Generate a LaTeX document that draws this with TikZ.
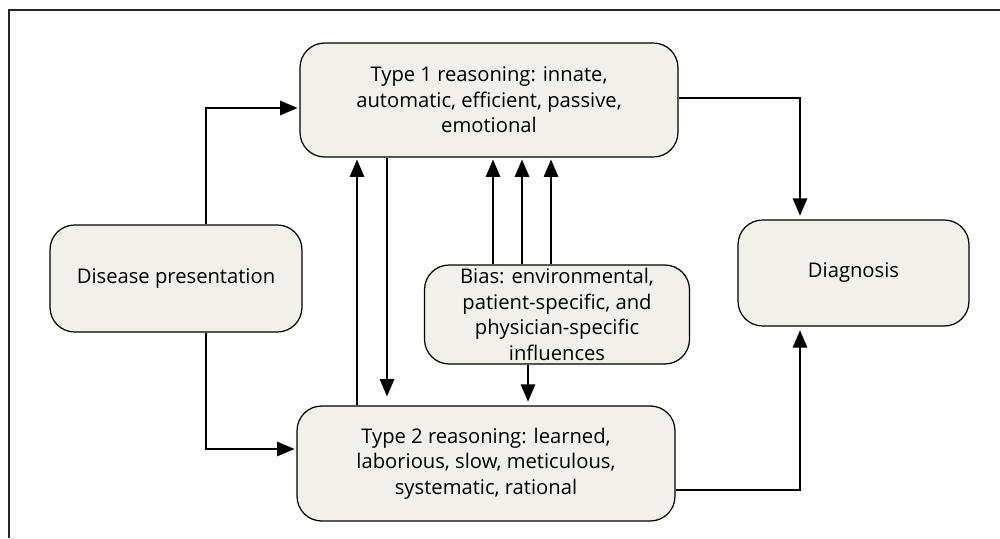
\documentclass[tikz,border=0pt]{standalone}
\usepackage{fontspec}
\setmainfont{Open Sans}
\usetikzlibrary{arrows.meta,calc}
\definecolor{boxfill}{RGB}{241,240,233}
\tikzset{
  box/.style={draw=black, line width=0.7pt, fill=boxfill, rounded corners=14pt,
    align=center, font=\fontsize{11.5}{14.6}\selectfont, inner sep=0pt},
  arr/.style={line width=1.6pt, -{Triangle[length=10pt,width=8pt]}},
  frame/.style={line width=0.8pt, draw=black!85}
}
\begin{document}
\begin{tikzpicture}[x=0.02cm,y=-0.02cm]
\useasboundingbox (0,0) rectangle (1000,538);
\draw[frame] (9,538) -- (9,10) -- (1000,10);

\node[box, minimum width=7.56cm, minimum height=2.28cm] (t1) at (489,100)
  {Type 1 reasoning: innate,\\automatic, efficient, passive,\\emotional};
\node[box, minimum width=7.56cm, minimum height=2.3cm] (t2) at (486,463.5)
  {Type 2 reasoning: learned,\\laborious, slow, meticulous,\\systematic, rational};
\node[box, minimum width=5.04cm, minimum height=2.14cm] (dp) at (176,278.5)
  {Disease presentation};
\node[box, minimum width=4.62cm, minimum height=2.12cm] (dg) at (853.5,273)
  {Diagnosis};
\node[box, minimum width=5.3cm, minimum height=1.98cm] (bias) at (557,314.5)
  {Bias: environmental,\\patient-specific, and\\physician-specific\\influences};

\coordinate (c1) at (206,108);
\coordinate (c2) at (206,449);
\coordinate (c3) at (800,98);
\coordinate (c4) at (800,490);
\coordinate (d1) at (387,0);
\coordinate (u1) at (357,0);
\coordinate (b1) at (493,0);
\coordinate (b2) at (522,0);
\coordinate (b3) at (551,0);
\coordinate (b4) at (528,0);

\draw[arr] (dp.north -| c1) |- ([xshift=-1pt]t1.west |- c1);
\draw[arr] (dp.south -| c2) |- ([xshift=-1pt]t2.west |- c2);
\draw[arr] (t1.east |- c3) -| ([yshift=2pt]dg.north -| c3);
\draw[arr] (t2.east |- c4) -| ([yshift=-2pt]dg.south -| c4);
\draw[arr] (t1.south -| d1) -- ([yshift=5pt]t2.north -| d1);
\draw[arr] (t2.north -| u1) -- ([yshift=-1pt]t1.south -| u1);
\draw[arr] (bias.north -| b1) -- ([yshift=-1pt]t1.south -| b1);
\draw[arr] (bias.north -| b2) -- ([yshift=-1pt]t1.south -| b2);
\draw[arr] (bias.north -| b3) -- ([yshift=-1pt]t1.south -| b3);
\draw[arr] (bias.south -| b4) -- ([yshift=2pt]t2.north -| b4);
\end{tikzpicture}
\end{document}
